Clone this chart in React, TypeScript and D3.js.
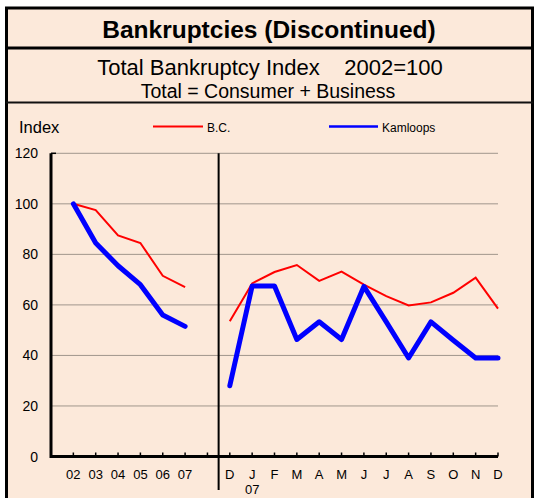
import * as d3 from "d3"

// categories along the x axis: annual (02-07), a spacer slot, then monthly Dec 06 - Dec 07
const annualLabels = ["02", "03", "04", "05", "06", "07"]
const monthLabels = ["D", "J", "F", "M", "A", "M", "J", "J", "A", "S", "O", "N", "D"]
const yTicks = [0, 20, 40, 60, 80, 100, 120]

const bcAnnual = [100, 97.5, 87.5, 84.5, 71.5, 67]
const kamAnnual = [100, 84.5, 75.5, 68, 56, 51.5]
const bcMonthly = [53.5, 68.5, 73, 75.8, 69.5, 73.2, 68, 63.5, 59.8, 61, 64.8, 70.8, 58.5]
const kamMonthly = [28, 67.5, 67.5, 46.3, 53.3, 46.3, 67.3, 53.3, 39, 53.3, 46, 39, 39]

const W = 535
const H = 498
const font = "'Liberation Sans', Arial, sans-serif"
const bg = "#fce9da"

export default function App() {
  const left = 51
  const right = 498
  const top = 153.3
  const bottom = 456.5

  const nSlots = annualLabels.length + 1 + monthLabels.length
  const x = d3.scaleLinear().domain([-1, nSlots - 1]).range([left, right])
  const y = d3.scaleLinear().domain([0, 120]).range([bottom, top])

  const monthStart = annualLabels.length + 1
  const dividerX = (x(annualLabels.length) + x(monthStart)) / 2

  const line = d3
    .line<[number, number]>()
    .x((d) => x(d[0]))
    .y((d) => y(d[1]))

  const annualPts = (vals: number[]) => vals.map((v, i) => [i, v] as [number, number])
  const monthPts = (vals: number[]) =>
    vals.map((v, i) => [monthStart + i, v] as [number, number])

  const allTicks = d3.range(nSlots)

  return (
    <div style={{ position: "fixed", left: 0, top: 0 }}>
      <svg width={W} height={H} style={{ display: "block", fontFamily: font }}>
        <rect x={0} y={0} width={W} height={H} fill="#fff" />
        <rect x={6.5} y={8} width={526} height={H} fill={bg} />

        {/* frame */}
        <path d={`M6.5,${H}V8H532.5V${H}`} fill="none" stroke="#000" strokeWidth={3} />
        <line x1={6} x2={533} y1={48} y2={48} stroke="#000" strokeWidth={3} />
        <line x1={6} x2={533} y1={102.5} y2={102.5} stroke="#111" strokeWidth={2} />

        <text x={269} y={38} textAnchor="middle" fontSize={24.5} fontWeight="bold">
          Bankruptcies (Discontinued)
        </text>
        <text x={270} y={75} textAnchor="middle" fontSize={22} style={{ whiteSpace: "pre" }}>
          {"Total Bankruptcy Index    2002=100"}
        </text>
        <text x={268} y={98} textAnchor="middle" fontSize={19.5}>
          Total = Consumer + Business
        </text>

        {/* legend */}
        <text x={19} y={133} fontSize={16.5}>Index</text>
        <line x1={153} x2={203} y1={126.5} y2={126.5} stroke="#ff0000" strokeWidth={2} />
        <text x={207} y={131.5} fontSize={12}>B.C.</text>
        <line x1={329} x2={378} y1={126.5} y2={126.5} stroke="#0000ff" strokeWidth={2.5} />
        <text x={382} y={131.5} fontSize={12}>Kamloops</text>

        {/* grid */}
        {yTicks.filter((t) => t > 0).map((t) => (
          <line key={t} x1={left} x2={right} y1={y(t)} y2={y(t)} stroke="#a0968c" strokeWidth={1} />
        ))}
        {yTicks.map((t) => (
          <text key={t} x={38} y={y(t) + 5} textAnchor="end" fontSize={14}>
            {t}
          </text>
        ))}

        {/* divider */}
        <line x1={dividerX} x2={dividerX} y1={top} y2={490} stroke="#000" strokeWidth={2} />

        {/* series */}
        <path d={line(annualPts(bcAnnual))!} fill="none" stroke="#ff0000" strokeWidth={2} />
        <path d={line(monthPts(bcMonthly))!} fill="none" stroke="#ff0000" strokeWidth={2} />
        <path d={line(annualPts(kamAnnual))!} fill="none" stroke="#0000ff" strokeWidth={5} strokeLinejoin="round" strokeLinecap="round" />
        <path d={line(monthPts(kamMonthly))!} fill="none" stroke="#0000ff" strokeWidth={5} strokeLinejoin="round" strokeLinecap="round" />

        {/* axes */}
        {allTicks.map((i) => (
          <line key={i} x1={x(i)} x2={x(i)} y1={bottom} y2={bottom - 4} stroke="#000" strokeWidth={1.5} />
        ))}
        <line x1={left} x2={left + 5} y1={top} y2={top} stroke="#000" strokeWidth={1.5} />
        <path d={`M${left},${top}V${bottom}H${right}`} fill="none" stroke="#000" strokeWidth={3} />

        {annualLabels.map((l, i) => (
          <text key={"a" + i} x={x(i)} y={479} textAnchor="middle" fontSize={13}>
            {l}
          </text>
        ))}
        {monthLabels.map((l, i) => (
          <text key={"m" + i} x={x(monthStart + i)} y={479} textAnchor="middle" fontSize={13}>
            {l}
          </text>
        ))}
        <text x={x(monthStart + 1)} y={494} textAnchor="middle" fontSize={13}>
          07
        </text>
      </svg>
    </div>
  )
}
